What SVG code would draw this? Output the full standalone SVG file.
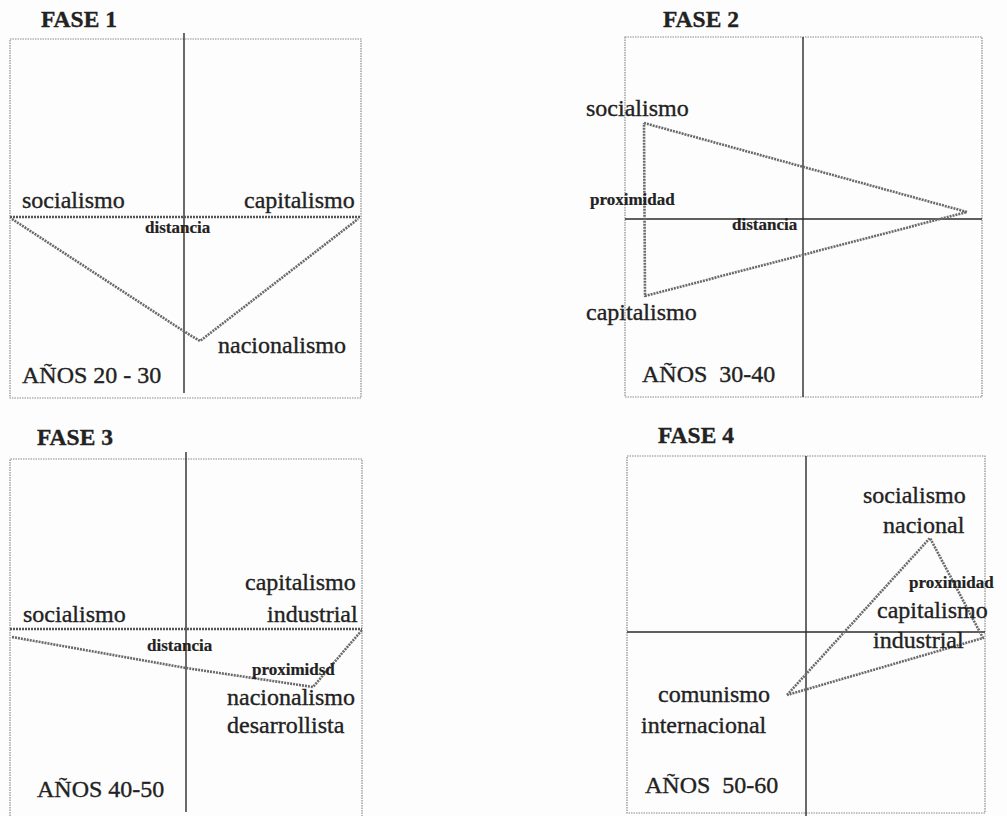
<svg xmlns="http://www.w3.org/2000/svg" width="1007" height="816" viewBox="0 0 1007 816">
<style>
.bg{fill:#fdfdfd}
.frame{fill:none;stroke:#8a8a8a;stroke-width:1.2;stroke-dasharray:1.5 1}
.axis{stroke:#2a2a2a;stroke-width:1.4;fill:none}
.haxis{stroke:#555;stroke-width:2.4;stroke-dasharray:2 1;fill:none}
.conn{fill:none;stroke:#6a6a6a;stroke-width:2.6;stroke-dasharray:2 1;stroke-linejoin:round}
text{font-family:'Liberation Serif','Times New Roman',Times,'DejaVu Serif',serif;fill:#222;stroke:#222;stroke-width:0.35}
.title{font-weight:bold;font-size:23.5px}
.lbl{font-size:24px}
.small{font-weight:bold;font-size:17px;stroke-width:0.2}
</style>
<rect class="bg" x="0" y="0" width="1007" height="816"/>

<!-- FASE 1 -->
<g id="fase1">
  <text id="f1-title" class="title" x="41" y="27">FASE 1</text>
  <rect class="frame" x="10" y="39" width="351" height="359"/>
  <line class="axis" x1="184" y1="33" x2="184" y2="393"/>
  <line class="haxis" x1="10" y1="217" x2="361" y2="217"/>
  <g id="f1-connectors">
    <polyline class="conn" points="12,219 185,332 200,341 358,219"/>
  </g>
  <g id="f1-socialismo"><text class="lbl" x="22" y="208">socialismo</text></g>
  <g id="f1-capitalismo"><text class="lbl" x="244" y="208">capitalismo</text></g>
  <g id="f1-distancia"><text class="small" x="145" y="233">distancia</text></g>
  <g id="f1-nacionalismo"><text class="lbl" x="218" y="353">nacionalismo</text></g>
  <g id="f1-anos"><text class="lbl" x="22" y="383">AÑOS 20 - 30</text></g>
</g>

<!-- FASE 2 -->
<g id="fase2">
  <text id="f2-title" class="title" x="663" y="27">FASE 2</text>
  <rect class="frame" x="625" y="37" width="357" height="360"/>
  <line class="axis" x1="803" y1="37" x2="803" y2="397"/>
  <line class="axis" x1="625" y1="219" x2="982" y2="219"/>
  <g id="f2-connectors">
    <polyline class="conn" points="644,123 967,212 645,296 644,123"/>
  </g>
  <g id="f2-socialismo"><text class="lbl" x="586" y="116">socialismo</text></g>
  <g id="f2-proximidad"><text class="small" x="590" y="205">proximidad</text></g>
  <g id="f2-distancia"><text class="small" x="732" y="230">distancia</text></g>
  <g id="f2-capitalismo"><text class="lbl" x="586" y="320">capitalismo</text></g>
  <g id="f2-anos"><text class="lbl" x="642" y="382" xml:space="preserve">AÑOS  30-40</text></g>
</g>

<!-- FASE 3 -->
<g id="fase3">
  <text id="f3-title" class="title" x="37" y="445">FASE 3</text>
  <path class="frame" d="M10,816 V459 H362 V816"/>
  <line class="axis" x1="186" y1="452" x2="186" y2="812"/>
  <line class="haxis" x1="10" y1="629" x2="362" y2="629"/>
  <g id="f3-connectors">
    <polyline class="conn" points="12,637 186,668 313,687 362,630"/>
  </g>
  <g id="f3-capitalismo"><text class="lbl" x="245" y="590">capitalismo</text></g>
  <g id="f3-industrial"><text class="lbl" x="267" y="622">industrial</text></g>
  <g id="f3-socialismo"><text class="lbl" x="23" y="622">socialismo</text></g>
  <g id="f3-distancia"><text class="small" x="147" y="651">distancia</text></g>
  <g id="f3-proximidad"><text class="small" x="252" y="675">proximidsd</text></g>
  <g id="f3-nacionalismo"><text class="lbl" x="227" y="705">nacionalismo</text></g>
  <g id="f3-desarrollista"><text class="lbl" x="227" y="733">desarrollista</text></g>
  <g id="f3-anos"><text class="lbl" x="37" y="797">AÑOS 40-50</text></g>
</g>

<!-- FASE 4 -->
<g id="fase4">
  <text id="f4-title" class="title" x="658" y="443">FASE 4</text>
  <rect class="frame" x="627" y="456" width="358" height="357"/>
  <line class="axis" x1="806" y1="456" x2="806" y2="816"/>
  <line class="axis" x1="627" y1="632" x2="985" y2="632"/>
  <g id="f4-connectors">
    <polyline class="conn" points="787,695 930,538 983,638 787,695"/>
  </g>
  <g id="f4-socialismo"><text class="lbl" x="863" y="503">socialismo</text></g>
  <g id="f4-nacional"><text class="lbl" x="883" y="533">nacional</text></g>
  <g id="f4-proximidad"><text class="small" x="909" y="588">proximidad</text></g>
  <g id="f4-capitalismo"><text class="lbl" x="877" y="618">capitalismo</text></g>
  <g id="f4-industrial"><text class="lbl" x="873" y="648">industrial</text></g>
  <g id="f4-comunismo"><text class="lbl" x="658" y="702">comunismo</text></g>
  <g id="f4-internacional"><text class="lbl" x="641" y="733">internacional</text></g>
  <g id="f4-anos"><text class="lbl" x="645" y="793" xml:space="preserve">AÑOS  50-60</text></g>
</g>
</svg>
